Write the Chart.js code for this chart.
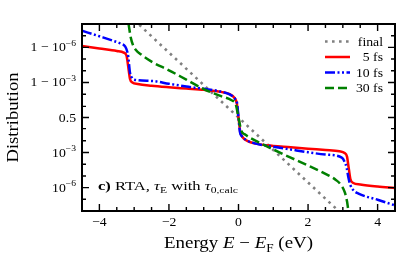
<!DOCTYPE html>
<html>
<head>
<meta charset="utf-8">
<script src="https://cdn.jsdelivr.net/npm/chart.js@4"></script>
<style>
  html, body { margin: 0; padding: 0; background: #fff; }
  #c { display: block; }
</style>
</head>
<body>
<canvas id="c" width="415" height="257"></canvas>
<script>
// =============== data (y values are logit of the distribution, ln(f/(1-f))) ===============
const energyFinal = [-3.0, -2.0, -1.0, 0, 1.0, 2.0, 3.0];
const logitFinal  = [19.2, 12.8, 6.4, 0, -6.4, -12.8, -19.2];

const energy5 = [-4.5, -4.0, -3.5, -3.3, -3.22, -3.17, -3.12, -3.05, -2.9, -2.5, -2.0, -1.5, -1.0, -0.5, -0.25, -0.12, -0.05, 0,
                 0.05, 0.12, 0.25, 0.5, 1.0, 1.5, 2.0, 2.5, 2.9, 3.05, 3.12, 3.17, 3.22, 3.3, 3.5, 4.0, 4.5];
const logit5  = [14.1, 13.6, 13.1, 12.8, 12.2, 10.0, 7.6, 6.9, 6.6, 6.25, 5.95, 5.7, 5.45, 5.05, 4.6, 3.9, 2.8, 0,
                 -2.8, -3.9, -4.6, -5.15, -5.6, -5.85, -6.15, -6.4, -6.65, -7.0, -7.7, -10.0, -12.2, -12.9, -13.2, -13.6, -13.9];

const energy10 = [-4.5, -4.0, -3.6, -3.4, -3.26, -3.2, -3.17, -3.12, -3.06, -3.0, -2.5, -2.0, -1.5, -1.0, -0.5, -0.24, -0.1, -0.04, 0,
                  0.04, 0.1, 0.24, 0.5, 1.0, 1.5, 2.0, 2.5, 2.97, 3.05, 3.11, 3.16, 3.21, 3.3, 3.45, 4.0, 4.5];
const logit10  = [17.1, 16.0, 15.1, 14.6, 14.0, 13.0, 12.0, 8.8, 7.8, 7.45, 7.2, 6.65, 6.1, 5.65, 5.1, 4.5, 3.7, 2.8, 0,
                  -2.8, -3.7, -4.5, -5.15, -5.75, -6.3, -6.85, -7.3, -7.9, -8.7, -9.9, -11.8, -13.2, -14.3, -15.0, -16.2, -17.3];

const energy30 = [-3.22, -3.16, -3.1, -3.03, -2.95, -2.8, -2.5, -2.0, -1.5, -1.0, -0.5, -0.2, -0.08, 0,
                  0.08, 0.2, 0.5, 1.0, 1.5, 2.0, 2.5, 2.8, 2.97, 3.06, 3.12, 3.16, 3.22];
const logit30  = [21.0, 18.4, 15.8, 14.2, 13.3, 12.4, 11.0, 9.3, 7.45, 5.6, 4.2, 3.4, 2.6, 0,
                  -2.6, -3.4, -4.6, -6.3, -7.9, -9.45, -11.1, -12.3, -13.5, -14.8, -16.5, -18.4, -21.0];

const seriesLabels = ["final", "5 fs", "10 fs", "30 fs"];

// axis ticks
const xRange = [-4.5, 4.5];
const xMajor = [-4, -2, 0, 2, 4];
const xMinor = [-3.5, -3, -2.5, -1.5, -1, -0.5, 0.5, 1, 1.5, 2.5, 3, 3.5];
const yRange = [1e-8, 1 - 1e-8];
const yMajor = [1 - 1e-6, 1 - 1e-3, 0.5, 1e-3, 1e-6];
const yMajorText = [["1 − 10", "−6"], ["1 − 10", "−3"], ["0.5", ""], ["10", "−3"], ["10", "−6"]];
const yMinor = [1 - 1e-7, 1 - 1e-5, 1 - 1e-4, 0.99, 0.9, 0.1, 0.01, 1e-4, 1e-5, 1e-7];

const logit = p => Math.log(p / (1 - p));
const pts = (xs, ys) => xs.map((x, i) => ({ x, y: ys[i] }));

// =============== text helpers ===============
const FONT = '"Liberation Serif", "Times New Roman", serif';
function fontStr(p, size) {
  return (p.b ? "bold " : "") + (p.it ? "italic " : "") + size.toFixed(2) + "px " + FONT;
}
// parts: {t, it, b, s (rel size), dy (em, negative = up)}
function drawRich(ctx, parts, x, y, size, opts = {}) {
  let w = 0;
  parts.forEach(p => { ctx.font = fontStr(p, size * (p.s || 1)); p._w = ctx.measureText(p.t).width; w += p._w; });
  const sx = opts.width ? opts.width / w : (opts.sx || 1.1);
  const total = w * sx;
  const x0 = opts.align === "right" ? x - total : opts.align === "center" ? x - total / 2 : x;
  ctx.save();
  ctx.translate(x0, y);
  ctx.scale(sx, 1);
  ctx.textBaseline = "alphabetic";
  ctx.textAlign = "left";
  ctx.fillStyle = "#000";
  let cx = 0;
  parts.forEach(p => {
    ctx.font = fontStr(p, size * (p.s || 1));
    ctx.fillText(p.t, cx, (p.dy || 0) * size);
    cx += p._w;
  });
  ctx.restore();
}

// =============== styles ===============
const colors = ["#808080", "#ff0000", "#0000ff", "#008000"];
const dashes = [[2.6, 4.4], [], [10, 2.5, 2, 2.5, 2, 2.5], [9, 4]];
const widths = [2.6, 2.5, 2.5, 2.5];

// frame, ticks, labels, legend, annotation
const framePlugin = {
  id: "frame",
  afterDatasetsDraw(chart) {
    const { ctx, chartArea: a, scales: { x, y } } = chart;
    ctx.save();
    ctx.strokeStyle = "#000";
    // ticks (inward, all four sides)
    ctx.lineWidth = 1.4;
    const tick = (v, len, isX) => {
      ctx.beginPath();
      if (isX) {
        const px = x.getPixelForValue(v);
        ctx.moveTo(px, a.bottom); ctx.lineTo(px, a.bottom - len);
        ctx.moveTo(px, a.top); ctx.lineTo(px, a.top + len);
      } else {
        const py = y.getPixelForValue(logit(v));
        ctx.moveTo(a.left, py); ctx.lineTo(a.left + len, py);
        ctx.moveTo(a.right, py); ctx.lineTo(a.right - len, py);
      }
      ctx.stroke();
    };
    xMajor.forEach(v => tick(v, 7, true));
    xMinor.forEach(v => tick(v, 4, true));
    yMajor.forEach(v => tick(v, 7, false));
    yMinor.forEach(v => tick(v, 4, false));
    // frame
    ctx.lineWidth = 2;
    ctx.strokeRect(a.left, a.top, a.right - a.left, a.bottom - a.top);
    ctx.restore();

    const fs = 12.5;
    // x tick labels
    xMajor.forEach(v => {
      const t = v < 0 ? "−" + Math.abs(v) : String(v);
      drawRich(ctx, [{ t }], x.getPixelForValue(v), a.bottom + 15, fs, { align: "center" });
    });
    // y tick labels
    yMajor.forEach((v, i) => {
      const [base, exp] = yMajorText[i];
      const parts = [{ t: base }];
      if (exp) parts.push({ t: exp, s: 0.7, dy: -0.42 });
      drawRich(ctx, parts, a.left - 6, y.getPixelForValue(logit(v)) + 4, fs, { align: "right" });
    });
    // axis titles
    drawRich(ctx, [{ t: "Energy " }, { t: "E", it: true }, { t: " − " }, { t: "E", it: true },
                   { t: "F", s: 0.7, dy: 0.22 }, { t: " (eV)" }],
             (a.left + a.right) / 2, 248, 17.5, { align: "center", width: 149 });
    ctx.save();
    ctx.translate(17.5, (a.top + a.bottom) / 2);
    ctx.rotate(-Math.PI / 2);
    drawRich(ctx, [{ t: "Distribution" }], 0, 0, 17.5, { align: "center", width: 90 });
    ctx.restore();

    // annotation
    drawRich(ctx, [{ t: "c)", b: true }, { t: " RTA, " }, { t: "τ", it: true }, { t: "E", s: 0.7, dy: 0.22 },
                   { t: " with " }, { t: "τ", it: true }, { t: "0,calc", s: 0.7, dy: 0.22 }],
             98, 190, 12.5, { width: 140 });

    // legend
    const rows = [41.5, 57, 72.5, 88];
    seriesLabels.forEach((lab, i) => {
      ctx.save();
      ctx.strokeStyle = colors[i];
      ctx.lineWidth = widths[i];
      ctx.setLineDash(dashes[i]);
      ctx.beginPath();
      ctx.moveTo(325, rows[i]);
      ctx.lineTo(350, rows[i]);
      ctx.stroke();
      ctx.restore();
      drawRich(ctx, [{ t: lab }], 383, rows[i] + 4, fs, { align: "right" });
    });
  }
};

// =============== chart ===============
const seriesX = [energyFinal, energy5, energy10, energy30];
const seriesY = [logitFinal, logit5, logit10, logit30];

new Chart(document.getElementById("c").getContext("2d"), {
  type: "line",
  data: {
    datasets: seriesLabels.map((label, i) => ({
      label,
      data: pts(seriesX[i], seriesY[i]),
      borderColor: colors[i],
      borderWidth: widths[i],
      borderDash: dashes[i],
      borderCapStyle: "butt",
      pointRadius: 0,
      fill: false,
      cubicInterpolationMode: "monotone",
      order: 4 - i, // last series on top
    })),
  },
  options: {
    responsive: false,
    animation: false,
    devicePixelRatio: 1,
    layout: { padding: { left: 82, right: 20, top: 24, bottom: 46 } },
    plugins: { legend: { display: false }, tooltip: { enabled: false } },
    scales: {
      x: { type: "linear", min: xRange[0], max: xRange[1], display: false },
      y: { type: "linear", min: logit(yRange[0]), max: logit(yRange[1]), display: false },
    },
  },
  plugins: [framePlugin],
});
</script>
</body>
</html>
